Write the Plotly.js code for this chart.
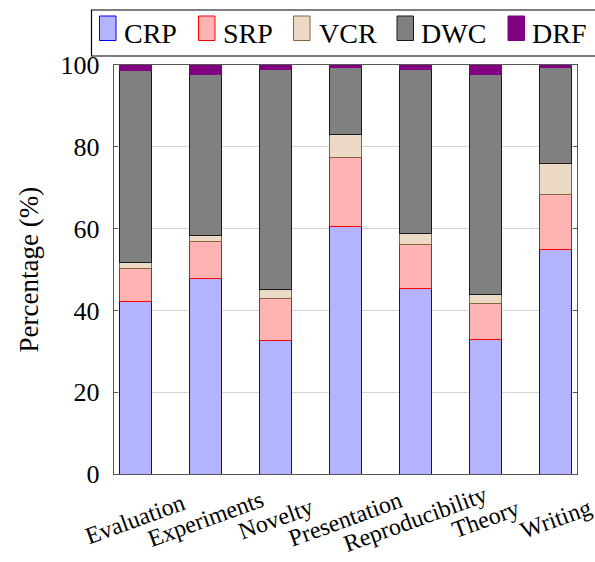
<!DOCTYPE html>
<html>
<head>
<meta charset="utf-8">
<script src="https://cdn.plot.ly/plotly-3.0.1.min.js"></script>
<style>
html,body{margin:0;padding:0;background:#fff;}
#chart{width:595px;height:562px;}
#chart text{font-family:"Liberation Serif","DejaVu Serif","Noto Serif","FreeSerif","Times New Roman",Times,serif !important;}
</style>
</head>
<body>
<div id="chart"></div>
<script>
// ---- data ----
const categories = ["Evaluation", "Experiments", "Novelty", "Presentation", "Reproducibility", "Theory", "Writing"];
const seriesNames = ["CRP", "SRP", "VCR", "DWC", "DRF"];
const CRP = [42.2, 47.7, 32.7, 60.5, 45.4, 33.0, 54.9];
const SRP = [8.0, 9.2, 10.1, 16.9, 10.8, 8.8, 13.5];
const VCR = [1.5, 1.5, 2.3, 5.5, 2.6, 2.1, 7.5];
const DWC = [47.0, 39.4, 53.7, 16.6, 40.0, 53.8, 23.5];
const DRF = [1.3, 2.2, 1.2, 0.5, 1.2, 2.3, 0.6];
const yTicks = [0, 20, 40, 60, 80, 100];
const yTitle = "Percentage (%)";

// ---- styles ----
const fills = ["#b3b3ff", "#ffb3b3", "#ecd9c6", "#808080", "#800080"];
const edges = ["#0000ff", "#ff0000", "#8c6239", "#1a1a1a", "#800080"];
const values = [CRP, SRP, VCR, DWC, DRF];
const FONT = "Liberation Serif";

// plot area in pixels
const L = 114, R = 577, T = 65, B = 474;
const px = x => (x - L) / (R - L);
const py = y => (B - y) / (B - T);

const traces = seriesNames.map((n, i) => ({
  type: "bar",
  name: n,
  x: categories,
  y: values[i],
  width: 0.46,
  marker: {color: fills[i], line: {color: edges[i], width: 1}},
  showlegend: false,
  hoverinfo: "skip"
}));

const shapes = [];
const annotations = [];

// legend box
shapes.push({type: "rect", xref: "paper", yref: "paper",
  x0: px(91.5), x1: px(640), y0: py(56), y1: py(10),
  line: {color: "#000", width: 1.2}, fillcolor: "rgba(0,0,0,0)", layer: "above"});
const symX = [99.5, 198.5, 293.5, 397, 508];
const txtX = [122, 220.5, 316.5, 419, 530];
seriesNames.forEach((n, i) => {
  shapes.push({type: "rect", xref: "paper", yref: "paper",
    x0: px(symX[i]), x1: px(symX[i] + 16.5), y0: py(40.5), y1: py(16),
    line: {color: edges[i], width: 1}, fillcolor: fills[i], layer: "above"});
  annotations.push({xref: "paper", yref: "paper", x: px(txtX[i]), y: py(33),
    xanchor: "left", yanchor: "middle", showarrow: false, text: n,
    font: {family: FONT, size: 28, color: "#000"}});
});

// category labels
categories.forEach(c => {
  annotations.push({xref: "x", yref: "paper", x: c, y: py(519),
    xanchor: "center", yanchor: "middle", showarrow: false, text: c, textangle: -20,
    font: {family: FONT, size: 24, color: "#000"}});
});

// y title
annotations.push({xref: "paper", yref: "paper", x: px(28), y: 0.5,
  xanchor: "center", yanchor: "middle", showarrow: false, text: yTitle, textangle: -90,
  font: {family: FONT, size: 27, color: "#000"}});

const layout = {
  width: 595, height: 562,
  margin: {l: L, r: 595 - R, t: T, b: 562 - B, pad: 0},
  paper_bgcolor: "#fff", plot_bgcolor: "#fff",
  barmode: "stack",
  font: {family: FONT, color: "#000"},
  xaxis: {type: "category", range: [-0.307, 6.307], showticklabels: false, ticks: "",
    showline: true, mirror: true, linecolor: "#555", linewidth: 1.2, showgrid: false, zeroline: false},
  yaxis: {range: [0, 100], tickvals: yTicks, ticktext: yTicks.map(String), ticks: "inside", ticklen: 4,
    tickcolor: "#555", showline: true, mirror: "ticks", linecolor: "#555", linewidth: 1.2,
    showgrid: true, gridcolor: "#d3d3d3", gridwidth: 1, zeroline: false,
    tickfont: {family: FONT, size: 26, color: "#000"}, ticklabelstandoff: 8},
  shapes: shapes,
  annotations: annotations
};

Plotly.newPlot("chart", traces, layout, {staticPlot: true, displayModeBar: false});
</script>
</body>
</html>
